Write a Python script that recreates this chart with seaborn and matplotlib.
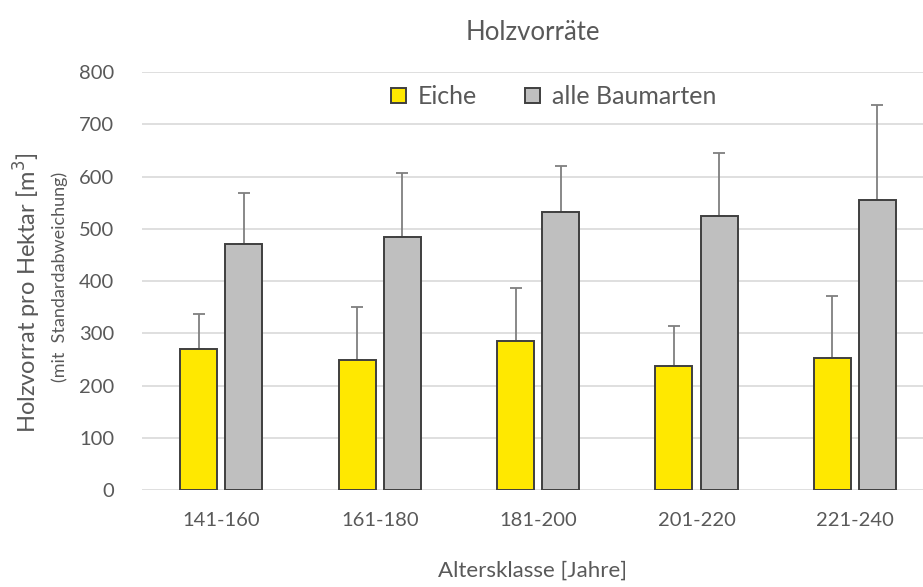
import matplotlib
matplotlib.use('Agg')
import matplotlib.pyplot as plt
import seaborn as sns
import pandas as pd
import numpy as np

# Data
klassen = ['141-160', '161-180', '181-200', '201-220', '221-240']
eiche = [271, 249, 285, 237, 252]
eiche_sd = [66, 101, 101, 77, 119]
alle = [471, 484, 532, 525, 555]
alle_sd = [97, 124, 88, 120, 182]
serien = ['Eiche', 'alle Baumarten']

df = pd.DataFrame({
    'klasse': klassen * 2,
    'serie': [serien[0]] * 5 + [serien[1]] * 5,
    'wert': eiche + alle,
    'sd': eiche_sd + alle_sd,
})

sns.set_style('white')
plt.rcParams['font.family'] = ['Lato', 'DejaVu Sans']
text_col = '#595959'

fig = plt.figure(figsize=(9.23, 5.87), dpi=100)
ax = fig.add_axes([0.154, 0.165, 0.858, 0.712])

sns.barplot(data=df, x='klasse', y='wert', hue='serie', order=klassen,
            hue_order=serien, palette=['#FFE800', '#BFBFBF'], saturation=1,
            width=0.57, gap=0.18, errorbar=None, edgecolor='#3F3F3F',
            linewidth=1.4, ax=ax, zorder=3)

# upward error bars (standard deviation)
for cont, name in zip(ax.containers, serien):
    sub = df[df['serie'] == name]
    xs = [p.get_x() + p.get_width() / 2 for p in cont.patches]
    ax.errorbar(xs, sub['wert'], yerr=[np.zeros(len(sub)), sub['sd']],
                fmt='none', ecolor='#7F7F7F', elinewidth=1.3, capsize=4,
                capthick=1.3, zorder=2)

ax.set_ylim(0, 800)
ax.set_xlim(-0.5, 4.5)
ax.set_yticks(range(0, 801, 100))
ax.yaxis.grid(True, color='#D9D9D9', linewidth=1.2, zorder=0)
ax.set_axisbelow(True)
for s in ax.spines.values():
    s.set_visible(False)
ax.tick_params(axis='x', length=0, labelsize=14.5, colors=text_col, pad=16)
ax.tick_params(axis='y', length=0, labelsize=14.5, colors=text_col, pad=20)
ax.set_xlabel('')
ax.set_ylabel('')

leg = ax.legend(loc='center', bbox_to_anchor=(0.600, 0.835),
                bbox_transform=fig.transFigure, ncol=2, frameon=False,
                fontsize=18, handlelength=0.6, handleheight=0.6,
                handletextpad=0.5, columnspacing=1.9, borderpad=0)
for t in leg.get_texts():
    t.set_color(text_col)

fig.text(0.577, 0.945, 'Holzvorräte', ha='center', va='center',
         fontsize=18.5, color=text_col)
fig.text(0.577, 0.027, 'Altersklasse [Jahre]', ha='center', va='center',
         fontsize=16, color=text_col)
fig.text(0.030, 0.502, 'Holzvorrat pro Hektar [m$^3$]', rotation=90,
         ha='center', va='center', fontsize=17, color=text_col)
fig.text(0.065, 0.528, '(mit  Standardabweichung)', rotation=90,
         ha='center', va='center', fontsize=13, color=text_col)

plt.savefig('out.png', dpi=100)
